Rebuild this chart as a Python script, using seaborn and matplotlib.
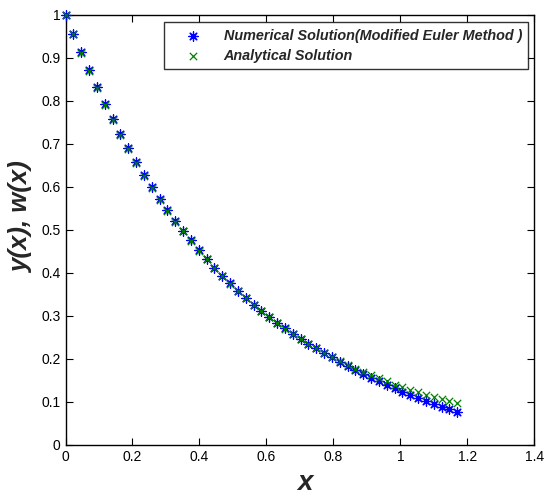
import matplotlib
matplotlib.use("Agg")
import matplotlib.pyplot as plt
import pandas as pd
import seaborn as sns

# step h ~ 0.0234, 51 grid points
x_vals = [0.0, 0.0234, 0.0468, 0.0702, 0.0936, 0.117, 0.1404, 0.1638, 0.1872, 0.2106,
          0.234, 0.2574, 0.2808, 0.3042, 0.3276, 0.351, 0.3744, 0.3978, 0.4212, 0.4446,
          0.468, 0.4914, 0.5148, 0.5382, 0.5616, 0.585, 0.6084, 0.6318, 0.6552, 0.6786,
          0.702, 0.7254, 0.7488, 0.7722, 0.7956, 0.819, 0.8424, 0.8658, 0.8892, 0.9126,
          0.936, 0.9594, 0.9828, 1.0062, 1.0296, 1.053, 1.0764, 1.0998, 1.1232, 1.1466,
          1.17]

numerical = [1.000, 0.956, 0.913, 0.871, 0.831, 0.793, 0.757, 0.723, 0.690, 0.658,
             0.628, 0.600, 0.572, 0.546, 0.521, 0.497, 0.475, 0.453, 0.432, 0.412,
             0.393, 0.375, 0.358, 0.342, 0.326, 0.311, 0.297, 0.284, 0.271, 0.258,
             0.246, 0.235, 0.224, 0.213, 0.203, 0.193, 0.183, 0.174, 0.165, 0.156,
             0.147, 0.139, 0.131, 0.123, 0.116, 0.109, 0.102, 0.095, 0.088, 0.082,
             0.076]

analytical = [1.000, 0.954, 0.911, 0.869, 0.829, 0.791, 0.755, 0.721, 0.688, 0.656,
              0.626, 0.598, 0.570, 0.544, 0.519, 0.496, 0.473, 0.451, 0.431, 0.411,
              0.392, 0.374, 0.357, 0.341, 0.325, 0.310, 0.296, 0.283, 0.270, 0.257,
              0.246, 0.234, 0.224, 0.213, 0.204, 0.194, 0.186, 0.177, 0.169, 0.161,
              0.154, 0.147, 0.140, 0.134, 0.128, 0.122, 0.116, 0.111, 0.106, 0.101,
              0.096]

x_ticks = [0, 0.2, 0.4, 0.6, 0.8, 1, 1.2, 1.4]
x_labels = ["0", "0.2", "0.4", "0.6", "0.8", "1", "1.2", "1.4"]
y_ticks = [0, 0.1, 0.2, 0.3, 0.4, 0.5, 0.6, 0.7, 0.8, 0.9, 1]
y_labels = ["0", "0.1", "0.2", "0.3", "0.4", "0.5", "0.6", "0.7", "0.8", "0.9", "1"]

sns.set_style("ticks")
plt.rcParams["font.family"] = ["Liberation Sans", "DejaVu Sans"]
plt.rcParams["xtick.direction"] = "in"
plt.rcParams["ytick.direction"] = "in"
plt.rcParams["xtick.top"] = True
plt.rcParams["ytick.right"] = True

df = pd.DataFrame({"x": x_vals, "num": numerical, "ana": analytical})

fig = plt.figure(figsize=(5.46, 5.0), dpi=100)
ax = fig.add_axes([0.120, 0.1106, 0.8586, 0.86])

sns.scatterplot(data=df, x="x", y="num", marker=(8, 2, 0), color="#0000ff",
                s=45, linewidth=0.9, ax=ax, clip_on=False, zorder=3,
                label="Numerical Solution(Modified Euler Method )")
sns.scatterplot(data=df, x="x", y="ana", marker="x", color="#008000",
                s=28, linewidth=0.9, ax=ax, clip_on=False, zorder=3,
                label="Analytical Solution")

ax.set_xlim(0, 1.4)
ax.set_ylim(0, 1)
ax.set_xticks(x_ticks)
ax.set_xticklabels(x_labels)
ax.set_yticks(y_ticks)
ax.set_yticklabels(y_labels)
ax.tick_params(labelsize=10, length=5, width=0.8, colors="black")
for sp in ax.spines.values():
    sp.set_linewidth(1.0)
    sp.set_color("black")

ax.set_xlabel("x", fontsize=20, fontweight="bold", fontstyle="italic")
ax.set_ylabel("y(x), w(x)", fontsize=18.5, fontweight="bold", fontstyle="italic")
ax.xaxis.set_label_coords(0.51, -0.058)
ax.yaxis.set_label_coords(-0.07, 0.53)

leg = ax.legend(loc="upper right", frameon=True, fancybox=False,
                bbox_to_anchor=(0.9875, 0.982),
                prop={"size": 10.4, "weight": "bold", "style": "italic"},
                handlelength=3.1, handletextpad=0.55, borderpad=0.45,
                labelspacing=0.4, borderaxespad=0)
leg.get_frame().set_edgecolor("black")
leg.get_frame().set_linewidth(1.0)
leg.set_zorder(5)

fig.savefig("out.png", dpi=100)
